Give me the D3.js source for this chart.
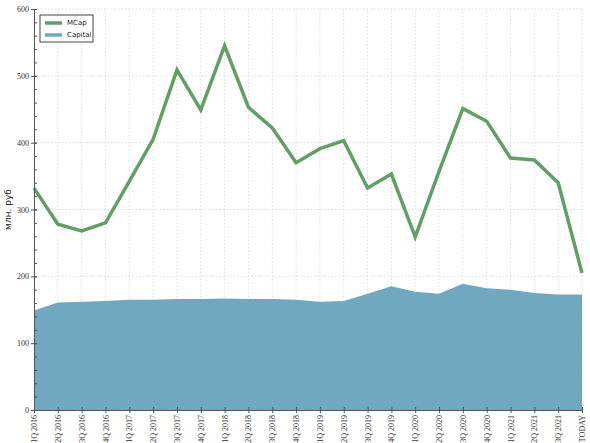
<!DOCTYPE html>
<html>
<head>
<meta charset="utf-8">
<script src="https://cdn.jsdelivr.net/npm/d3@7"></script>
<style>
  body { margin: 0; background: #fff; }
  .grid line { stroke: #ddd; stroke-dasharray: 1.5,2; }
  .axis path, .axis line { stroke: #555; }
  .axis text { font-family: "Liberation Serif", serif; font-size: 8px; fill: #333; }
</style>
</head>
<body>
<div id="chart"></div>
<script>
// quarters on the x axis
var quarters = ["1Q 2016","2Q 2016","3Q 2016","4Q 2016",
                "1Q 2017","2Q 2017","3Q 2017","4Q 2017",
                "1Q 2018","2Q 2018","3Q 2018","4Q 2018",
                "1Q 2019","2Q 2019","3Q 2019","4Q 2019",
                "1Q 2020","2Q 2020","3Q 2020","4Q 2020",
                "1Q 2021","2Q 2021","3Q 2021","TODAY"];

var mcap = [332, 278, 268, 280, 342, 405, 509, 449, 545, 453, 422, 370,
            391, 403, 332, 353, 259, 357, 451, 432, 377, 374, 340, 205];

var capital = [149, 161, 162, 163, 165, 165, 166, 166, 167, 166, 166, 165,
               162, 163, 174, 185, 177, 174, 189, 182, 180, 175, 173, 173];

var yTicks = [0, 100, 200, 300, 400, 500, 600];

var width = 590, height = 443;
var margin = {top: 9, right: 8, bottom: 33, left: 34};
var w = width - margin.left - margin.right,
    h = height - margin.top - margin.bottom;

var svg = d3.select("#chart").append("svg")
    .attr("width", width)
    .attr("height", height);

var g = svg.append("g")
    .attr("transform", "translate(" + margin.left + "," + margin.top + ")");

var x = d3.scalePoint().domain(quarters).range([0, w]);
var y = d3.scaleLinear().domain([0, 600]).range([h, 0]);

// grid
g.append("g").attr("class", "grid")
  .selectAll("line").data(quarters).enter().append("line")
    .attr("x1", function(d) { return x(d); })
    .attr("x2", function(d) { return x(d); })
    .attr("y1", 0).attr("y2", h);
g.append("g").attr("class", "grid")
  .selectAll("line").data(yTicks).enter().append("line")
    .attr("x1", 0).attr("x2", w)
    .attr("y1", function(d) { return y(d); })
    .attr("y2", function(d) { return y(d); });

// capital area
var area = d3.area()
    .x(function(d, i) { return x(quarters[i]); })
    .y0(y(0))
    .y1(function(d) { return y(d); });
g.append("path")
    .datum(capital)
    .attr("fill", "#70a8c0")
    .attr("d", area);

// mcap line
var line = d3.line()
    .x(function(d, i) { return x(quarters[i]); })
    .y(function(d) { return y(d); });
g.append("path")
    .datum(mcap)
    .attr("fill", "none")
    .attr("stroke", "#629f66")
    .attr("stroke-width", 3.5)
    .attr("stroke-linejoin", "miter")
    .attr("d", line);

// y axis: minor ticks inside, major both sides
g.append("g").attr("class", "axis")
    .call(d3.axisRight(y).tickValues(d3.range(0, 601, 20)).tickSize(3).tickFormat(""))
    .select(".domain").remove();
var yAxis = g.append("g").attr("class", "axis")
    .call(d3.axisLeft(y).tickValues(yTicks).tickSize(3).tickPadding(2));
yAxis.selectAll(".tick line").attr("x2", 3).attr("x1", -3);

// x axis
var xAxis = g.append("g").attr("class", "axis")
    .attr("transform", "translate(0," + h + ")")
    .call(d3.axisBottom(x).tickSize(3).tickSizeOuter(0));
xAxis.selectAll(".tick line").attr("y1", -3).attr("y2", 3);
xAxis.selectAll("text")
    .attr("transform", "rotate(-90)")
    .attr("text-anchor", "end")
    .attr("dy", "0.32em")
    .attr("x", -5)
    .attr("y", 0);

// y label
svg.append("text")
    .attr("transform", "translate(11," + (margin.top + h / 2) + ") rotate(-90)")
    .attr("text-anchor", "middle")
    .style("font-family", "DejaVu Sans, sans-serif")
    .style("font-size", "9px")
    .style("fill", "#222")
    .text("млн. руб");

// legend
var legend = svg.append("g").attr("transform", "translate(40,15)");
legend.append("rect")
    .attr("width", 53).attr("height", 27)
    .attr("fill", "#fff").attr("stroke", "#444").attr("stroke-width", 1);
var items = [{name: "MCap", color: "#629f66"}, {name: "Capital", color: "#70a8c0"}];
items.forEach(function(it, i) {
  var yy = 8 + i * 12;
  legend.append("line")
      .attr("x1", 5).attr("x2", 22)
      .attr("y1", yy).attr("y2", yy)
      .attr("stroke", it.color).attr("stroke-width", 3.5);
  legend.append("text")
      .attr("x", 27).attr("y", yy)
      .attr("dy", "0.35em")
      .style("font-family", "DejaVu Sans, sans-serif")
      .style("font-size", "7px")
      .style("fill", "#222")
      .text(it.name);
});
</script>
</body>
</html>
